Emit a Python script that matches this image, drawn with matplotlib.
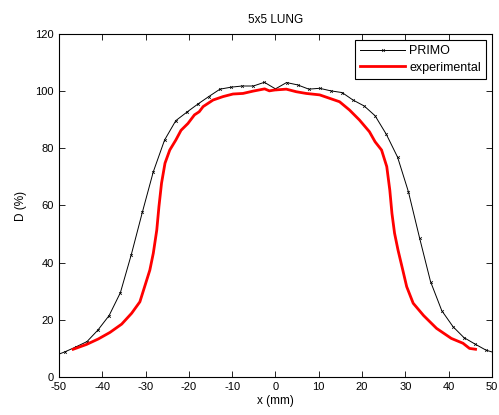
import matplotlib
matplotlib.use('Agg')
import matplotlib.pyplot as plt

# PRIMO simulation (black, markers)
primo_x = [-51.2, -48.6, -46.1, -43.5, -41.0, -38.4, -35.8, -33.3, -30.7, -28.2,
           -25.6, -23.0, -20.5, -17.9, -15.4, -12.8, -10.2, -7.7, -5.1, -2.56,
           0.0, 2.56, 5.1, 7.7, 10.2, 12.8, 15.4, 17.9, 20.5, 23.0,
           25.6, 28.2, 30.7, 33.3, 35.8, 38.4, 41.0, 43.5, 46.1, 48.6, 51.2]
primo_y = [7.3, 8.8, 10.5, 12.4, 16.4, 21.5, 29.5, 42.7, 57.8, 71.8,
           82.9, 89.7, 92.6, 95.5, 98.1, 100.7, 101.4, 101.8, 101.8, 103.1,
           100.8, 103.0, 102.2, 100.7, 101.0, 100.1, 99.5, 96.9, 94.8, 91.4,
           84.9, 76.9, 64.8, 48.5, 33.4, 23.2, 17.6, 13.8, 11.5, 9.4, 8.2]

# experimental profile (red)
exp_x = [-46.7, -43.6, -40.9, -38.2, -35.5, -33.2, -31.3, -30.2, -29.0, -28.2,
         -27.4, -26.9, -26.3, -25.5, -24.4, -23.0, -21.8, -20.2, -18.7, -17.6,
         -16.7, -14.4, -12.1, -9.8, -7.5, -5.2, -2.5, -1.4, -0.2, 2.5,
         4.8, 7.1, 10.2, 12.5, 14.8, 17.1, 19.4, 21.7, 23.0, 24.5,
         25.7, 26.4, 26.9, 27.5, 28.3, 29.4, 30.3, 31.8, 34.2, 37.2,
         40.6, 43.3, 44.8, 46.2]
exp_y = [9.7, 11.4, 13.3, 15.6, 18.5, 22.3, 26.3, 31.6, 37.4, 43.3,
         51.4, 59.6, 67.8, 74.8, 79.4, 82.9, 86.3, 88.7, 91.7, 92.8,
         94.6, 96.9, 98.1, 99.0, 99.2, 100.0, 100.8, 100.1, 100.4, 100.7,
         99.8, 99.2, 98.7, 97.5, 96.3, 93.4, 89.9, 85.8, 82.3, 79.4,
         73.6, 65.4, 57.2, 50.3, 44.4, 37.4, 31.6, 25.8, 21.5, 17.0,
         13.5, 11.8, 10.0, 9.7]

plt.rcParams['font.family'] = ['Liberation Sans', 'DejaVu Sans']
plt.rcParams['axes.unicode_minus'] = False

fig = plt.figure(figsize=(4.99, 4.15), dpi=100)
ax = fig.add_axes([0.118, 0.0916, 0.868, 0.8265])

ax.plot(primo_x, primo_y, color='black', linewidth=0.7, marker='x',
        markersize=2, markeredgewidth=0.5, label='PRIMO')
ax.plot(exp_x, exp_y, color='red', linewidth=2, label='experimental')

ax.set_xlim(-50, 50)
ax.set_ylim(0, 120)
ax.set_xticks(range(-50, 51, 10))
ax.set_yticks(range(0, 121, 20))
ax.tick_params(direction='in', top=True, right=True, labelsize=8, length=4, width=0.6)
for s in ax.spines.values():
    s.set_linewidth(0.8)

ax.set_title('5x5 LUNG', fontsize=8.5, pad=8)
ax.set_xlabel('x (mm)', fontsize=8.5, labelpad=2)
ax.set_ylabel('D (%)', fontsize=8.5, labelpad=6)

leg = ax.legend(loc='upper right', fontsize=9, fancybox=False, framealpha=1,
                edgecolor='black', handlelength=3.6, borderaxespad=0.5,
                handletextpad=0.3, labelspacing=0.35, borderpad=0.4)
leg.get_frame().set_linewidth(0.8)

fig.savefig('out.png', dpi=100)
plt.close(fig)
